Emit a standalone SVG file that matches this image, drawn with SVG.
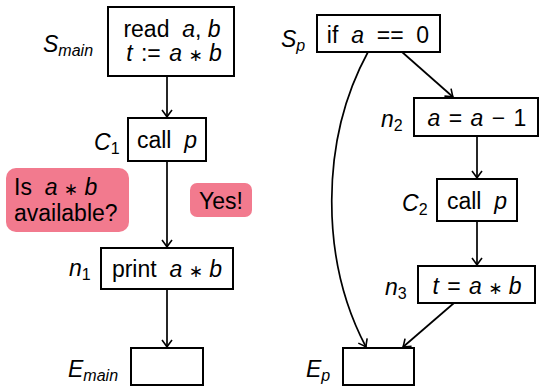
<svg xmlns="http://www.w3.org/2000/svg" width="540" height="386" viewBox="0 0 540 386">
<style>
text{font-family:"Liberation Sans",Arial,sans-serif;font-size:23px;fill:#000;white-space:pre}
.i{font-style:italic}
.s{font-size:16px}
.st{font-size:16px;font-style:normal}
.ast{font-family:"DejaVu Sans",sans-serif;font-size:17px;font-style:normal}
.box{fill:#fff;stroke:#000;stroke-width:2}
.note{fill:#F27A8E;stroke:none}
.edge{fill:none;stroke:#000;stroke-width:1.7;marker-end:url(#arr)}
</style>
<defs>
<marker id="arr" viewBox="-8 -6 9 12" refX="0" refY="0" markerWidth="9" markerHeight="12" markerUnits="userSpaceOnUse" orient="auto">
<path d="M-7,-5 Q-2,-1.2 0,0 Q-2,1.2 -7,5" fill="none" stroke="#000" stroke-width="1.6"/>
</marker>
</defs>
<rect width="540" height="386" fill="#fff"/>
<g id="connectors">
<path class="edge" d="M167,76 L167,117"/>
<path class="edge" d="M167,161 L167,247"/>
<path class="edge" d="M167,289 L167,347"/>
<path class="edge" d="M402,52 L453,97"/>
<path class="edge" d="M477,136 L477,178"/>
<path class="edge" d="M477,221 L477,265"/>
<path class="edge" d="M454,303 L403,347"/>
<path class="edge" d="M368,52 C320,140 320,260 366,347"/>
</g>
<g id="S_main">
<rect class="box" x="108" y="7" width="126" height="69"/>
<text x="172" y="37" text-anchor="middle">read  <tspan class="i">a</tspan>, <tspan class="i">b</tspan></text>
<text x="174" y="61" text-anchor="middle"><tspan class="i">t</tspan> <tspan dx="2">:=</tspan> <tspan class="i" dx="2">a</tspan> <tspan class="ast">∗</tspan> <tspan class="i">b</tspan></text>
<text x="43" y="52" class="i" font-size="25">S<tspan class="s" dy="4">main</tspan></text>
</g>
<g id="C1">
<rect class="box" x="128" y="118" width="78" height="43"/>
<text x="167" y="148" text-anchor="middle">call  <tspan class="i">p</tspan></text>
<text x="94" y="150" class="i" font-size="25">C<tspan class="st" dy="4">1</tspan></text>
</g>
<g id="n1">
<rect class="box" x="101" y="248" width="132" height="41"/>
<text x="167" y="277" text-anchor="middle">print  <tspan class="i">a</tspan> <tspan class="ast">∗</tspan> <tspan class="i">b</tspan></text>
<text x="69" y="276" class="i" font-size="25">n<tspan class="st" dy="4">1</tspan></text>
</g>
<g id="E_main">
<rect class="box" x="131" y="348" width="72" height="37"/>
<text x="68" y="377" class="i" font-size="25">E<tspan class="s" dy="4">main</tspan></text>
</g>
<g id="note_q">
<rect class="note" x="6" y="168" width="123" height="64" rx="10"/>
<text x="14" y="195">Is  <tspan class="i">a</tspan> <tspan class="ast">∗</tspan> <tspan class="i">b</tspan></text>
<text x="14" y="221">available?</text>
</g>
<g id="note_yes">
<rect class="note" x="190" y="183" width="62" height="34" rx="7"/>
<text x="221" y="209" text-anchor="middle">Yes!</text>
</g>
<g id="S_p">
<rect class="box" x="317" y="15" width="123" height="37"/>
<text x="378" y="43" text-anchor="middle">if  <tspan class="i">a</tspan>  ==  0</text>
<text x="281" y="47" class="i" font-size="25">S<tspan class="s" dy="4">p</tspan></text>
</g>
<g id="n2">
<rect class="box" x="414" y="98" width="124" height="38"/>
<text x="477" y="126" text-anchor="middle"><tspan class="i">a</tspan> <tspan dx="2">=</tspan> <tspan class="i" dx="2">a</tspan> <tspan dx="2">−</tspan> <tspan dx="2">1</tspan></text>
<text x="381" y="127" class="i" font-size="25">n<tspan class="st" dy="4">2</tspan></text>
</g>
<g id="C2">
<rect class="box" x="437" y="179" width="80" height="42"/>
<text x="477" y="209" text-anchor="middle">call  <tspan class="i">p</tspan></text>
<text x="402" y="211" class="i" font-size="25">C<tspan class="st" dy="4">2</tspan></text>
</g>
<g id="n3">
<rect class="box" x="418" y="266" width="117" height="37"/>
<text x="477" y="294" text-anchor="middle"><tspan class="i">t</tspan> <tspan dx="2">=</tspan> <tspan class="i" dx="2">a</tspan> <tspan class="ast">∗</tspan> <tspan class="i">b</tspan></text>
<text x="385" y="295" class="i" font-size="25">n<tspan class="st" dy="4">3</tspan></text>
</g>
<g id="E_p">
<rect class="box" x="343" y="348" width="71" height="37"/>
<text x="306" y="377" class="i" font-size="25">E<tspan class="s" dy="4">p</tspan></text>
</g>
</svg>
